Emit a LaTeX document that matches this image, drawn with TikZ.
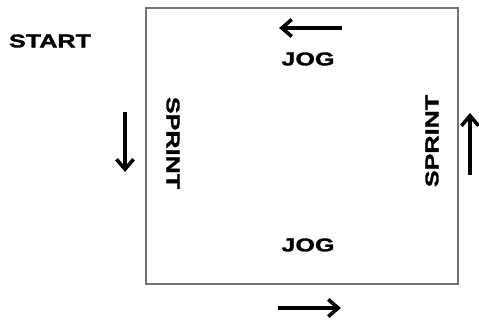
\documentclass[tikz,border=0pt]{standalone}
\usepackage{fontspec}
\newfontfamily\labfont{Liberation Sans}[FakeStretch=1.36, FakeBold=1.6]
\usetikzlibrary{arrows.meta}
\tikzset{
  lbl/.style={inner sep=0pt, font=\labfont\bfseries\fontsize{18.5}{18.5}\selectfont, text=black},
  dirarrow/.style={line width=3.2pt, -{Straight Barb[length=10pt,width=17pt,line width=3.6pt]}},
  field/.style={draw=black!55, line width=1.8pt}
}
\begin{document}
\begin{tikzpicture}[x=1pt,y=-1pt]
\useasboundingbox (0,0) rectangle (479,320);
\draw[field] (146,8) rectangle (458,284);
\node[lbl] (start) at (50,41) {START};
\node[lbl] (jogtop) at (308,59) {JOG};
\node[lbl] (jogbot) at (308,245) {JOG};
\node[lbl, rotate=-90] (sprintl) at (173,143) {SPRINT};
\node[lbl, rotate=90] (sprintr) at (432,141) {SPRINT};
\coordinate (t1) at (342,28); \coordinate (t2) at (279,28);
\coordinate (b1) at (278,308); \coordinate (b2) at (341,308);
\coordinate (l1) at (125,112); \coordinate (l2) at (125,172);
\coordinate (r1) at (470,175); \coordinate (r2) at (470,113);
\draw[dirarrow] (t1) -- (t2);
\draw[dirarrow] (b1) -- (b2);
\draw[dirarrow] (l1) -- (l2);
\draw[dirarrow] (r1) -- (r2);
\end{tikzpicture}
\end{document}
